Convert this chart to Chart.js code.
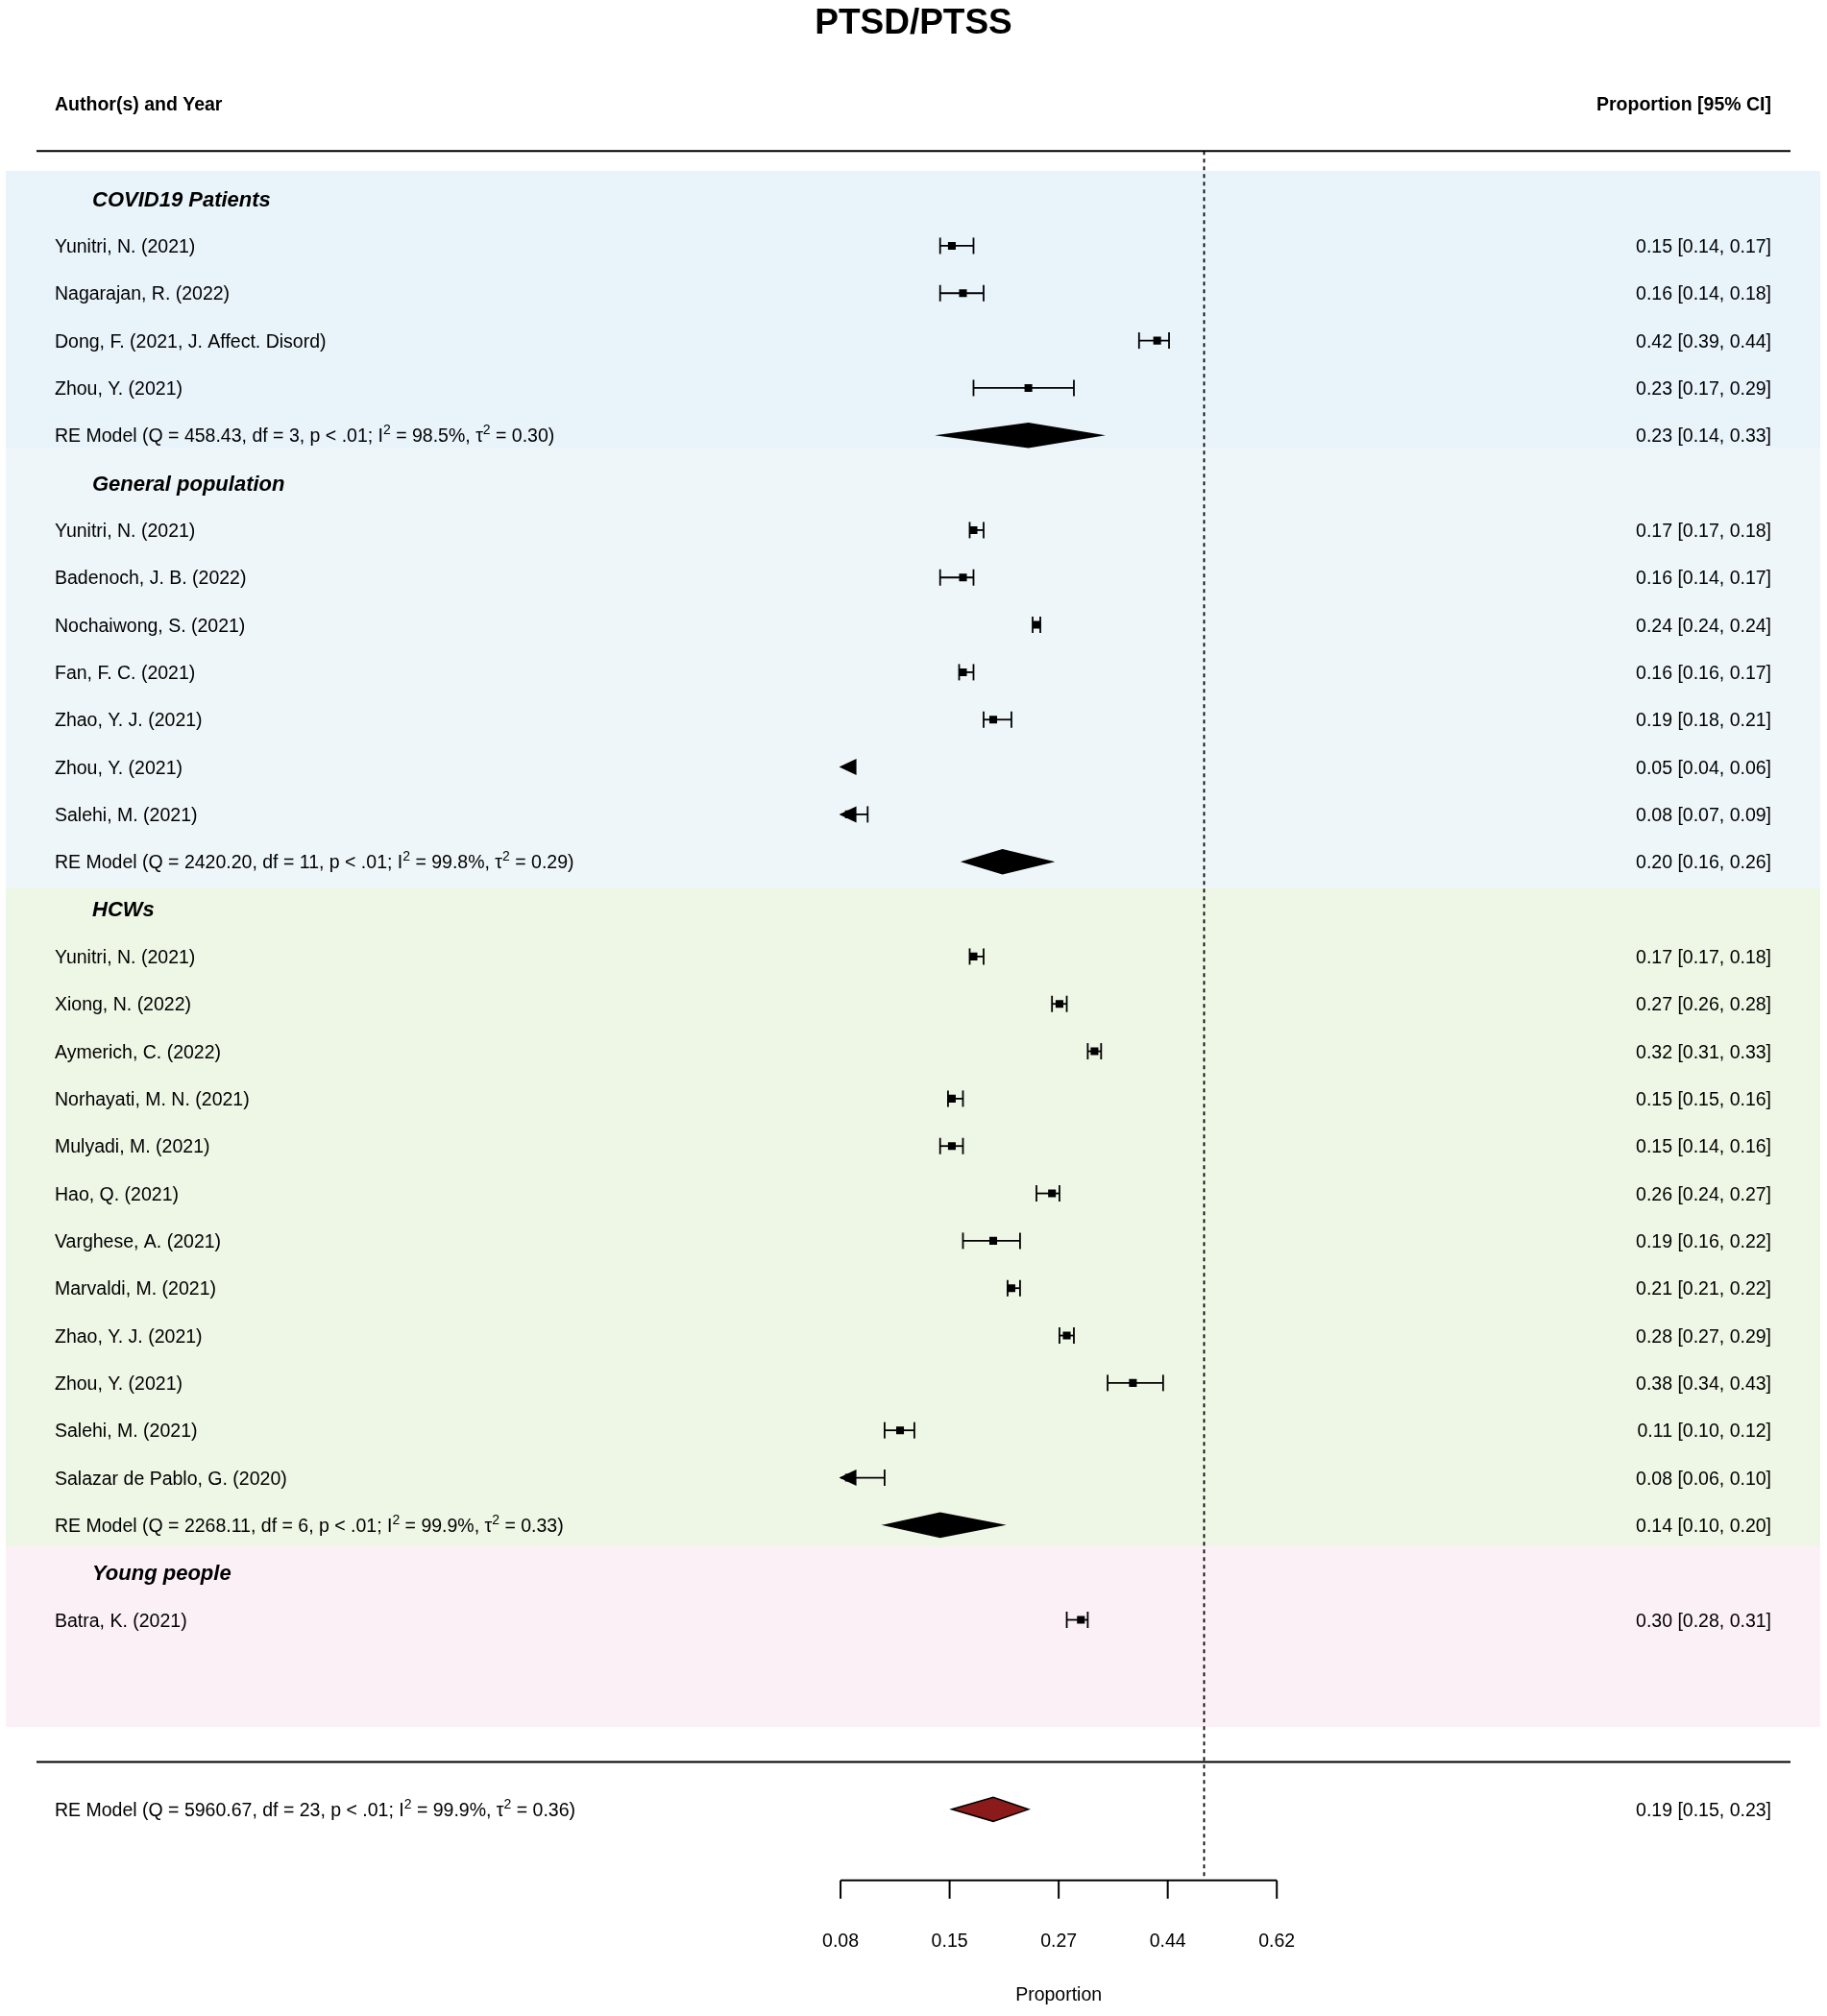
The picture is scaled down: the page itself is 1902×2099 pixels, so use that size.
<!DOCTYPE html>
<html>
<head>
<meta charset="utf-8">
<script src="https://cdn.jsdelivr.net/npm/chart.js@4.4.1/dist/chart.umd.min.js"></script>
<style>
  html, body { margin: 0; padding: 0; background: #fff; }
  canvas { display: block; }
</style>
</head>
<body>
<canvas id="forest" width="1902" height="2099"></canvas>
<script>
// ---- data ----
const groupNames = ["COVID19 Patients", "General population", "HCWs", "Young people"];

const studyNames = [
  "Yunitri, N. (2021)", "Nagarajan, R. (2022)", "Dong, F. (2021, J. Affect. Disord)", "Zhou, Y. (2021)",
  "Yunitri, N. (2021)", "Badenoch, J. B. (2022)", "Nochaiwong, S. (2021)", "Fan, F. C. (2021)",
  "Zhao, Y. J. (2021)", "Zhou, Y. (2021)", "Salehi, M. (2021)",
  "Yunitri, N. (2021)", "Xiong, N. (2022)", "Aymerich, C. (2022)", "Norhayati, M. N. (2021)",
  "Mulyadi, M. (2021)", "Hao, Q. (2021)", "Varghese, A. (2021)", "Marvaldi, M. (2021)",
  "Zhao, Y. J. (2021)", "Zhou, Y. (2021)", "Salehi, M. (2021)", "Salazar de Pablo, G. (2020)",
  "Batra, K. (2021)"
];
const studyGroup = [0,0,0,0, 1,1,1,1,1,1,1, 2,2,2,2,2,2,2,2,2,2,2,2, 3];
const studyEst = [0.15,0.16,0.42,0.23, 0.17,0.16,0.24,0.16,0.19,0.05,0.08,
                  0.17,0.27,0.32,0.15,0.15,0.26,0.19,0.21,0.28,0.38,0.11,0.08, 0.30];
const studyLo  = [0.14,0.14,0.39,0.17, 0.17,0.14,0.24,0.16,0.18,0.04,0.07,
                  0.17,0.26,0.31,0.15,0.14,0.24,0.16,0.21,0.27,0.34,0.10,0.06, 0.28];
const studyHi  = [0.17,0.18,0.44,0.29, 0.18,0.17,0.24,0.17,0.21,0.06,0.09,
                  0.18,0.28,0.33,0.16,0.16,0.27,0.22,0.22,0.29,0.43,0.12,0.10, 0.31];

// subgroup random-effects models (Young people has none)
const reQ    = [458.43, 2420.20, 2268.11, null];
const reDf   = [3, 11, 6, null];
const reI2   = [98.5, 99.8, 99.9, null];
const reTau2 = [0.30, 0.29, 0.33, null];
const reEst  = [0.23, 0.20, 0.14, null];
const reLo   = [0.14, 0.16, 0.10, null];
const reHi   = [0.33, 0.26, 0.20, null];

// overall model
const allQ = 5960.67, allDf = 23, allI2 = 99.9, allTau2 = 0.36;
const allEst = 0.19, allLo = 0.15, allHi = 0.23;

// x axis (logit scale, labels back-transformed)
const tickValues = [-2.5, -1.75, -1, -0.25, 0.5];
const tickLabels = ["0.08", "0.15", "0.27", "0.44", "0.62"];
const refLine = 0;

// ---- layout ----
const W = 1902, H = 2099;
const ROW0 = 202, ROW_H = 49.6;
const PX_PER_UNIT = 152.3, X_FIRST_TICK = 874.6;
const bandEdges = [-0.58, 5.26, 14.56, 28.45, 32.26];
const bandColors = ["#e8f3fa", "#eff6f9", "#eef6e5", "#fbf0f5"];
const FONT = "'Liberation Sans', Arial, sans-serif";

const logit = p => Math.log(p / (1 - p));

// work out which row each line of the forest goes on
const studyRow = [], headerRow = [], reRow = [];
let r = 0;
groupNames.forEach((g, gi) => {
  headerRow.push(r); r++;
  studyGroup.forEach((sg, i) => { if (sg === gi) { studyRow[i] = r; r++; } });
  if (reEst[gi] !== null) { reRow[gi] = r; r++; } else { reRow[gi] = null; }
});
const lineRow = 33, allRow = 34, axisRow = 35.5, tickLabelRow = 36.75, xTitleRow = 37.9;

const squarePoints = [];
studyEst.forEach((e, i) => {
  if (logit(e) >= tickValues[0]) squarePoints.push({ x: logit(e), y: studyRow[i] });
});

function textAt(ctx, txt, x, y, size, opts) {
  opts = opts || {};
  ctx.font = (opts.style || "") + " " + size + "px " + FONT;
  ctx.textAlign = opts.align || "left";
  ctx.textBaseline = "alphabetic";
  ctx.fillStyle = "#000";
  ctx.fillText(txt, x, y + size * 0.36);
}

function reText(ctx, x, y, Q, df, I2, tau2) {
  const size = 19.5, sup = 14;
  const parts = [
    ["RE Model (Q = " + Q.toFixed(2) + ", df = " + df + ", p < .01; I", false],
    ["2", true],
    [" = " + I2.toFixed(1) + "%, \u03C4", false],
    ["2", true],
    [" = " + tau2.toFixed(2) + ")", false]
  ];
  ctx.textAlign = "left";
  ctx.textBaseline = "alphabetic";
  ctx.fillStyle = "#000";
  let cx = x;
  parts.forEach(([t, isSup]) => {
    ctx.font = (isSup ? sup : size) + "px " + FONT;
    ctx.fillText(t, cx, y + size * 0.36 - (isSup ? 8 : 0));
    cx += ctx.measureText(t).width;
  });
}

function diamond(ctx, xs, y, est, lo, hi, fill) {
  const h = 12.5;
  ctx.beginPath();
  ctx.moveTo(xs.getPixelForValue(logit(lo)), y);
  ctx.lineTo(xs.getPixelForValue(logit(est)), y - h);
  ctx.lineTo(xs.getPixelForValue(logit(hi)), y);
  ctx.lineTo(xs.getPixelForValue(logit(est)), y + h);
  ctx.closePath();
  ctx.fillStyle = fill;
  ctx.fill();
  ctx.lineWidth = 1.5;
  ctx.strokeStyle = "#000";
  ctx.stroke();
}

const forestPlugin = {
  id: "forest",
  beforeDatasetsDraw(chart) {
    const ctx = chart.ctx, xs = chart.scales.x, ys = chart.scales.y;
    ctx.save();
    ctx.fillStyle = "#fff";
    ctx.fillRect(0, 0, W, H);

    // subgroup bands
    bandColors.forEach((c, i) => {
      const t = ys.getPixelForValue(bandEdges[i]), b = ys.getPixelForValue(bandEdges[i + 1]);
      ctx.fillStyle = c;
      ctx.fillRect(6, t, 1889, b - t);
    });

    // horizontal rules
    ctx.strokeStyle = "#000";
    ctx.lineWidth = 2;
    [-1, lineRow].forEach(rr => {
      const y = ys.getPixelForValue(rr);
      ctx.beginPath(); ctx.moveTo(38, y); ctx.lineTo(1864, y); ctx.stroke();
    });

    // reference line
    ctx.save();
    ctx.setLineDash([4, 4]);
    ctx.lineWidth = 1.8;
    const xr = xs.getPixelForValue(refLine);
    ctx.beginPath();
    ctx.moveTo(xr, ys.getPixelForValue(-1));
    ctx.lineTo(xr, ys.getPixelForValue(axisRow));
    ctx.stroke();
    ctx.restore();

    // confidence intervals
    const axMin = tickValues[0];
    const xMin = xs.getPixelForValue(axMin);
    ctx.lineWidth = 1.8;
    ctx.fillStyle = "#000";
    studyEst.forEach((e, i) => {
      const y = ys.getPixelForValue(studyRow[i]);
      const lo = logit(studyLo[i]), hi = logit(studyHi[i]);
      const xe = xs.getPixelForValue(logit(e));
      const cap = 8.5;
      if (hi >= axMin) {
        const xl = lo < axMin ? xMin : Math.min(xs.getPixelForValue(lo), xe - 4);
        const xh = Math.max(xs.getPixelForValue(hi), xe + 4);
        ctx.beginPath(); ctx.moveTo(xl, y); ctx.lineTo(xh, y); ctx.stroke();
        ctx.beginPath(); ctx.moveTo(xh, y - cap); ctx.lineTo(xh, y + cap); ctx.stroke();
        if (lo >= axMin) {
          ctx.beginPath(); ctx.moveTo(xl, y - cap); ctx.lineTo(xl, y + cap); ctx.stroke();
        }
      }
      if (lo < axMin) {
        ctx.beginPath();
        ctx.moveTo(xMin - 1.5, y);
        ctx.lineTo(xMin + 16.5, y - 8.5);
        ctx.lineTo(xMin + 16.5, y + 8.5);
        ctx.closePath();
        ctx.fill();
      }
    });
    ctx.restore();
  },
  afterDatasetsDraw(chart) {
    const ctx = chart.ctx, xs = chart.scales.x, ys = chart.scales.y;
    ctx.save();

    // subgroup diamonds
    reEst.forEach((e, gi) => {
      if (e === null) return;
      diamond(ctx, xs, ys.getPixelForValue(reRow[gi]), e, reLo[gi], reHi[gi], "#000");
    });
    diamond(ctx, xs, ys.getPixelForValue(allRow), allEst, allLo, allHi, "#8b1a1a");

    // title and column headers
    ctx.font = "bold 37px " + FONT;
    ctx.textAlign = "center";
    ctx.textBaseline = "alphabetic";
    ctx.fillStyle = "#000";
    ctx.fillText("PTSD/PTSS", W / 2, 35);
    textAt(ctx, "Author(s) and Year", 57, ys.getPixelForValue(-2), 19.5, { style: "bold" });
    textAt(ctx, "Proportion [95% CI]", 1844, ys.getPixelForValue(-2), 19.5, { style: "bold", align: "right" });

    const ci = (e, lo, hi) => e.toFixed(2) + " [" + lo.toFixed(2) + ", " + hi.toFixed(2) + "]";

    groupNames.forEach((g, gi) => {
      textAt(ctx, g, 96, ys.getPixelForValue(headerRow[gi]), 22, { style: "italic bold" });
      if (reRow[gi] !== null) {
        const y = ys.getPixelForValue(reRow[gi]);
        reText(ctx, 57, y, reQ[gi], reDf[gi], reI2[gi], reTau2[gi]);
        textAt(ctx, ci(reEst[gi], reLo[gi], reHi[gi]), 1844, y, 19.5, { align: "right" });
      }
    });
    studyNames.forEach((n, i) => {
      const y = ys.getPixelForValue(studyRow[i]);
      textAt(ctx, n, 57, y, 19.5);
      textAt(ctx, ci(studyEst[i], studyLo[i], studyHi[i]), 1844, y, 19.5, { align: "right" });
    });
    const yAll = ys.getPixelForValue(allRow);
    reText(ctx, 57, yAll, allQ, allDf, allI2, allTau2);
    textAt(ctx, ci(allEst, allLo, allHi), 1844, yAll, 19.5, { align: "right" });

    // x axis
    const ya = ys.getPixelForValue(axisRow);
    ctx.strokeStyle = "#000";
    ctx.lineWidth = 2;
    ctx.beginPath();
    ctx.moveTo(xs.getPixelForValue(tickValues[0]), ya);
    ctx.lineTo(xs.getPixelForValue(tickValues[tickValues.length - 1]), ya);
    ctx.stroke();
    tickValues.forEach((t, i) => {
      const x = xs.getPixelForValue(t);
      ctx.beginPath(); ctx.moveTo(x, ya); ctx.lineTo(x, ya + 19); ctx.stroke();
      textAt(ctx, tickLabels[i], x, ys.getPixelForValue(tickLabelRow), 19.5, { align: "center" });
    });
    textAt(ctx, "Proportion", xs.getPixelForValue(-1), ys.getPixelForValue(xTitleRow), 19.5, { align: "center" });
    ctx.restore();
  }
};

const xMinVal = tickValues[0] - X_FIRST_TICK / PX_PER_UNIT;
const yMinVal = -ROW0 / ROW_H;

new Chart(document.getElementById("forest"), {
  type: "scatter",
  data: {
    datasets: [{
      data: squarePoints,
      pointStyle: "rect",
      pointRadius: 5.7,
      pointHoverRadius: 5.7,
      backgroundColor: "#000",
      borderWidth: 0
    }]
  },
  options: {
    responsive: false,
    animation: false,
    devicePixelRatio: 1,
    layout: { padding: 0 },
    events: [],
    plugins: { legend: { display: false }, tooltip: { enabled: false } },
    scales: {
      x: { type: "linear", display: false, min: xMinVal, max: xMinVal + W / PX_PER_UNIT },
      y: { type: "linear", display: false, reverse: true, min: yMinVal, max: yMinVal + H / ROW_H }
    }
  },
  plugins: [forestPlugin]
});
</script>
</body>
</html>
